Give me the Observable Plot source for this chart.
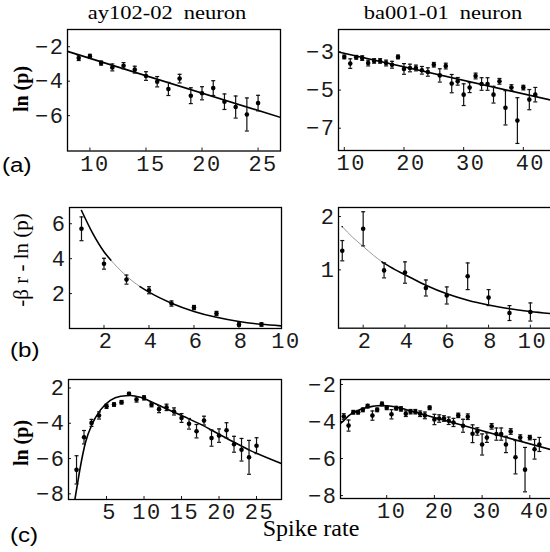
<!DOCTYPE html>
<html><head><meta charset="utf-8">
<script src="https://cdn.jsdelivr.net/npm/d3@7"></script>
<script src="https://cdn.jsdelivr.net/npm/@observablehq/plot@0.6"></script>
<style>
html,body{margin:0;padding:0;background:#fff;overflow:hidden;width:550px;height:552px}
#root{position:relative;width:550px;height:552px;overflow:hidden;background:#fff}
.pl{position:absolute}
#ov{position:absolute;left:0;top:0;pointer-events:none}
</style></head><body><div id="root"></div>
<script>
// ---------- data ----------
// (a) left: ay102-02, ln(p) vs spike rate
const aLeftX = [9,10,11,12,13,14,15,16,17,18,19,20,21,22,23,24,25];
const aLeftY = [-2.65,-2.56,-2.95,-3.2,-3.1,-3.33,-3.7,-4.03,-4.45,-3.85,-4.84,-4.7,-4.4,-5.19,-5.5,-5.93,-5.27];
const aLeftErr = [0.15,0.12,0.12,0.2,0.18,0.2,0.25,0.3,0.38,0.25,0.46,0.38,0.43,0.45,0.64,0.96,0.45];
const aLeftFitX = [8, 27];
const aLeftFitY = [-2.27, -6.1];

// (a) right: ba001-01
const aRightX = [10,11,12,13,14,15,16,17,18,19,20,21,22,23,24,25,26,27,28,29,30,31,32,33,34,35,36,37,38,39,40,41,42];
const aRightY = [-3.26,-3.61,-3.28,-3.32,-3.58,-3.47,-3.47,-3.58,-3.67,-3.26,-3.89,-3.84,-3.84,-3.96,-4.05,-3.67,-4.23,-3.74,-4.66,-4.54,-5.24,-4.87,-4.26,-4.68,-4.68,-5.24,-4.54,-5.93,-4.87,-6.6,-4.87,-5.5,-5.24];
const aRightErr = [0.1,0.25,0.1,0.12,0.15,0.12,0.12,0.15,0.18,0.1,0.28,0.2,0.15,0.2,0.22,0.12,0.35,0.15,0.48,0.2,0.57,0.26,0.15,0.33,0.33,0.44,0.15,0.9,0.15,1.2,0.12,0.53,0.38];
const aRightFitX = [9.03, 44.8];
const aRightFitY = [-3.0, -5.54];

// (b) left: -beta r - ln(p)
const bLeftX = [1,2,3,4,5,6,7,8,9];
const bLeftY = [5.71,3.71,2.8,2.19,1.43,1.2,0.86,0.23,0.23];
const bLeftErr = [0.68,0.31,0.26,0.2,0.15,0.12,0.12,0.1,0.1];
const bLeftFitX = [1,1.5,2,2.3,2.6,3,3.3,3.6,4,5,6,7,8,9,9.89];
const bLeftFitY = [6.76,5.45,4.4,3.92,3.5,3.0,2.68,2.4,2.08,1.45,0.98,0.64,0.4,0.24,0.15];

// (b) right
const bRightX = [1,2,3,4,5,6,7,8,9,10];
const bRightY = [1.36,1.77,0.99,0.95,0.66,0.52,0.88,0.48,0.19,0.21];
const bRightErr = [0.19,0.32,0.14,0.2,0.15,0.16,0.25,0.15,0.14,0.17];
const bRightFitX = [1,1.5,2,2.5,2.9,3.5,4,5,6,7,8,9,10,11.01];
const bRightFitY = [1.81,1.61,1.44,1.27,1.15,1.01,0.91,0.71,0.55,0.43,0.34,0.27,0.22,0.18];

// (c) left: low rates (1..8), higher rates shared with (a) left
const cLeftLowX = [1,2,3,4,5,6,7,8];
const cLeftLowY = [-6.64,-4.79,-3.98,-3.56,-3.04,-2.94,-2.81,-2.33];
const cLeftLowErr = [0.8,0.38,0.2,0.2,0.12,0.1,0.1,0.08];
const cLeftFitX = [0.78,1.1,1.5,2.2,3.1,4.2,5.5,6.9,8.2,9.5,11.3,13.1,15.3,17.5,19.7,21.9,24.2,28.4];
const cLeftFitY = [-8.32,-7.5,-6.5,-5.08,-4.03,-3.24,-2.7,-2.47,-2.43,-2.53,-2.85,-3.2,-3.62,-4.05,-4.55,-5.05,-5.55,-6.3];

// (c) right: low rates (1..9), higher rates shared with (a) right
const cRightLowX = [1,2,3,4,5,6,7,8,9];
const cRightLowY = [-3.73,-4.22,-3.5,-3.5,-3.37,-3.17,-3.68,-3.37,-3.05];
const cRightLowErr = [0.15,0.3,0.1,0.1,0.1,0.1,0.25,0.1,0.1];
const cRightFitX = [0.3,1,2,3,4,5,6,7,8,9,10,12,14,16,20,30,44.6];
const cRightFitY = [-4.1,-3.95,-3.7,-3.52,-3.4,-3.3,-3.23,-3.18,-3.15,-3.14,-3.15,-3.22,-3.35,-3.5,-3.78,-4.5,-5.53];

// tick values / labels
const aLeftXTicks = [10,15,20,25];
const aLeftYTicks = [-2,-4,-6];
const aRightXTicks = [10,20,30,40];
const aRightYTicks = [-3,-5,-7];
const bLeftXTicks = [2,4,6,8,10];
const bLeftYTicks = [2,4,6];
const bRightXTicks = [2,4,6,8,10];
const bRightYTicks = [1,2];
const cLeftXTicks = [5,10,15,20,25];
const cLeftYTicks = [-2,-4,-6,-8];
const cLeftYLabels = ["2","\u22124","\u22126","\u22128"];
const cRightXTicks = [10,20,30,40];
const cRightYTicks = [-2,-4,-6,-8];

const titles = ["ay102-02  neuron", "ba001-01  neuron"];
const yTitles = ["ln (p)", "-\u03b2 r - ln (p)", "ln (p)"];
const letters = ["(a)", "(b)", "(c)"];
const xTitle = "Spike rate";

// ---------- helpers ----------
const zip = (xs, ys, es) => xs.map((x, i) => ({x, y: ys[i], e: es ? es[i] : 0}));
const hline = {draw(ctx, size) { const w = Math.sqrt(size / Math.PI); ctx.moveTo(-w, 0); ctx.lineTo(w, 0); }};
const fmt = v => v < 0 ? "\u2212" + (-v) : String(v);

function panel(cfg) {
  const {frame: [l, r, t, b], xDomain, yDomain, xTicks, yTicks, yLabels, xdx, pts, curve, light} = cfg;
  const mL = 62, mR = r > 540 ? 0 : 14, mT = 8, mB = 34;
  const yfmt = yLabels ? (v => yLabels[yTicks.indexOf(v)]) : fmt;
  const inX = xTicks.filter(v => v >= xDomain[0] && v <= xDomain[1]);
  const marks = [
    Plot.axisX(inX, {anchor: "bottom", tickSize: -3, tickFormat: () => "", label: null, strokeWidth: 1}),
    Plot.axisX(xTicks, {anchor: "bottom", tickSize: 0, tickPadding: 4, tickFormat: fmt, dx: xdx, label: null}),
    Plot.axisY(yTicks, {anchor: "left", tickSize: -3, tickFormat: () => "", label: null, strokeWidth: 1}),
    Plot.axisY(yTicks, {anchor: "left", tickSize: 0, tickPadding: 3, tickFormat: yfmt, label: null}),
    Plot.frame({stroke: "#000", strokeWidth: 1.3})
  ];
  if (light) {
    const [a, c] = light;
    marks.push(Plot.line(curve.filter(d => d.x >= a && d.x <= c), {x: "x", y: "y", stroke: "#999", strokeWidth: 1, clip: true, curve: "monotone-x"}));
    marks.push(Plot.line(curve.filter(d => d.x <= a), {x: "x", y: "y", stroke: "#000", strokeWidth: 1.6, clip: true, curve: "monotone-x"}));
    marks.push(Plot.line(curve.filter(d => d.x >= c), {x: "x", y: "y", stroke: "#000", strokeWidth: 1.6, clip: true, curve: "monotone-x"}));
  } else {
    marks.push(Plot.line(curve, {x: "x", y: "y", stroke: "#000", strokeWidth: 1.6, clip: true, curve: "monotone-x"}));
  }
  marks.push(
    Plot.ruleX(pts, {x: "x", y1: d => d.y - d.e, y2: d => d.y + d.e, stroke: "#111", strokeWidth: 1.2}),
    Plot.dot(pts, {x: "x", y: d => d.y - d.e, symbol: hline, r: 2, stroke: "#111", strokeWidth: 1.2}),
    Plot.dot(pts, {x: "x", y: d => d.y + d.e, symbol: hline, r: 2, stroke: "#111", strokeWidth: 1.2}),
    Plot.dot(pts, {x: "x", y: "y", r: 2.3, fill: "#000", stroke: "none"})
  );
  const svg = Plot.plot({
    width: (r - l) + mL + mR,
    height: (b - t) + mT + mB,
    marginLeft: mL, marginRight: mR, marginTop: mT, marginBottom: mB,
    x: {domain: xDomain},
    y: {domain: yDomain},
    style: {fontFamily: "'Liberation Mono', monospace", fontSize: "22px", color: "#1a1a1a", background: "transparent", overflow: "visible", letterSpacing: "1.5px"},
    marks
  });
  svg.classList.add("pl");
  svg.style.left = (l - mL) + "px";
  svg.style.top = (t - mT) + "px";
  document.getElementById("root").appendChild(svg);
}

const aL = zip(aLeftX, aLeftY, aLeftErr);
const aR = zip(aRightX, aRightY, aRightErr);

panel({frame: [67, 280, 29, 150.5], xDomain: [8, 27], yDomain: [-8.05, -1.0],
  xTicks: aLeftXTicks, yTicks: aLeftYTicks, xdx: 5, pts: aL, curve: zip(aLeftFitX, aLeftFitY)});
panel({frame: [337.5, 551, 29, 150], xDomain: [9.03, 44.8], yDomain: [-8.17, -1.82],
  xTicks: aRightXTicks, yTicks: aRightYTicks, xdx: 7, pts: aR, curve: zip(aRightFitX, aRightFitY)});
panel({frame: [69, 281, 207, 328], xDomain: [0.467, 9.89], yDomain: [0, 6.93],
  xTicks: bLeftXTicks, yTicks: bLeftYTicks, xdx: 2, pts: zip(bLeftX, bLeftY, bLeftErr),
  curve: zip(bLeftFitX, bLeftFitY), light: [2.3, 3.6]});
panel({frame: [338, 551, 207, 327.7], xDomain: [0.82, 11.01], yDomain: [-0.094, 2.17],
  xTicks: bRightXTicks, yTicks: bRightYTicks, xdx: 2, pts: zip(bRightX, bRightY, bRightErr),
  curve: zip(bRightFitX, bRightFitY), light: [1, 2.9]});
panel({frame: [68, 281, 379, 499], xDomain: [-0.07, 28.33], yDomain: [-8.32, -1.52],
  xTicks: cLeftXTicks, yTicks: cLeftYTicks, yLabels: cLeftYLabels, xdx: 3,
  pts: zip(cLeftLowX, cLeftLowY, cLeftLowErr).concat(aL), curve: zip(cLeftFitX, cLeftFitY)});
panel({frame: [340, 551, 379, 498], xDomain: [0.31, 44.55], yDomain: [-8.16, -1.73],
  xTicks: cRightXTicks, yTicks: cRightYTicks, xdx: 5,
  pts: zip(cRightLowX, cRightLowY, cRightLowErr).concat(aR), curve: zip(cRightFitX, cRightFitY)});

// ---------- overlay text ----------
const NS = "http://www.w3.org/2000/svg";
const ov = document.createElementNS(NS, "svg");
ov.setAttribute("id", "ov"); ov.setAttribute("width", 550); ov.setAttribute("height", 552);
function txt(s, x, y, opt) {
  const e = document.createElementNS(NS, "text");
  e.textContent = s;
  e.setAttribute("transform", `translate(${x},${y}) rotate(${opt.rot || 0}) scale(${opt.sx || 1},1)`);
  e.setAttribute("text-anchor", opt.anchor || "middle");
  e.setAttribute("font-family", opt.font || "'Liberation Serif', serif");
  e.setAttribute("font-size", opt.size);
  if (opt.bold) e.setAttribute("font-weight", "bold");
  e.setAttribute("fill", "#000");
  e.style.whiteSpace = "pre";
  ov.appendChild(e);
}
txt(titles[0], 167, 19, {size: 18, sx: 1.25});
txt(titles[1], 443, 19, {size: 18, sx: 1.25});
txt(yTitles[0], 28, 89, {size: 20, rot: -90, bold: true});
txt(yTitles[1], 28, 260, {size: 21, rot: -90});
txt(yTitles[2], 28, 443, {size: 20, rot: -90, bold: true});
txt(letters[0], 2, 172, {size: 21, anchor: "start", font: "'Liberation Sans', sans-serif", sx: 1.15});
txt(letters[1], 10, 357, {size: 21, anchor: "start", font: "'Liberation Sans', sans-serif", sx: 1.15});
txt(letters[2], 10, 542, {size: 21, anchor: "start", font: "'Liberation Sans', sans-serif", sx: 1.15});
txt(xTitle, 311, 536, {size: 24});
document.getElementById("root").appendChild(ov);
</script></body></html>
